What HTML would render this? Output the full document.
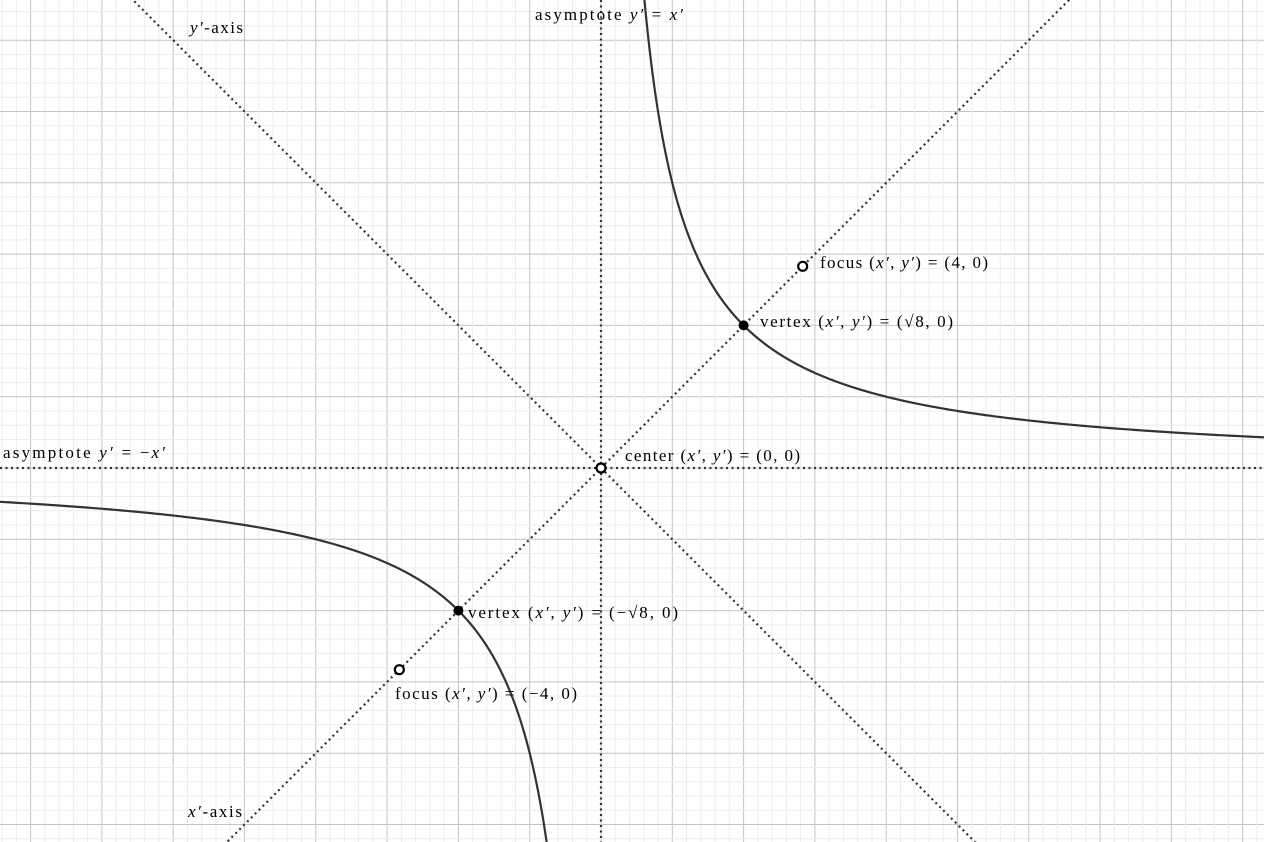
<!DOCTYPE html>
<html><head><meta charset="utf-8"><style>
html,body{margin:0;padding:0;background:#fff;overflow:hidden;width:1264px;height:842px;}
svg{display:block;}
text{font-family:"Liberation Serif",serif;font-size:17px;fill:#000;}
.m{font-style:italic;}
</style></head><body>
<svg id="chart" width="1264" height="842" viewBox="0 0 1264 842" xmlns="http://www.w3.org/2000/svg">
<g id="grid"></g>
<g id="lines"></g>
<g id="curves"></g>
<g id="pts"></g>
<g>
<text x="190" y="33" textLength="53" lengthAdjust="spacing"><tspan class="m">y′</tspan>-axis</text>
<text x="535" y="20" textLength="148" lengthAdjust="spacing">asymptote <tspan class="m">y′</tspan> = <tspan class="m">x′</tspan></text>
<text x="820" y="268" textLength="168" lengthAdjust="spacing">focus (<tspan class="m">x′</tspan>, <tspan class="m">y′</tspan>) = (4, 0)</text>
<text x="760" y="327" textLength="193" lengthAdjust="spacing">vertex (<tspan class="m">x′</tspan>, <tspan class="m">y′</tspan>) = (√8, 0)</text>
<text x="3" y="458" textLength="162" lengthAdjust="spacing">asymptote <tspan class="m">y′</tspan> = −<tspan class="m">x′</tspan></text>
<text x="625" y="461" textLength="175" lengthAdjust="spacing">center (<tspan class="m">x′</tspan>, <tspan class="m">y′</tspan>) = (0, 0)</text>
<text x="468" y="618" textLength="210" lengthAdjust="spacing">vertex (<tspan class="m">x′</tspan>, <tspan class="m">y′</tspan>) = (−√8, 0)</text>
<text x="395" y="699" textLength="182" lengthAdjust="spacing">focus (<tspan class="m">x′</tspan>, <tspan class="m">y′</tspan>) = (−4, 0)</text>
<text x="188" y="817" textLength="54" lengthAdjust="spacing"><tspan class="m">x′</tspan>-axis</text>
</g>
</svg>
<script>
const xRange = [-8.43, 9.31];
const hyperbolaK = [4];
const pointsX = [2, -2, 2.8284, -2.8284, 0];
const pointsY = [2, -2, 2.8284, -2.8284, 0];
const pointFilled = [true, true, false, false, false];

const NS = "http://www.w3.org/2000/svg";
const cx = 601, cy = 468, u = 71.3;
const sx = v => cx + v * u, sy = v => cy - v * u;
function mk(tag, attrs, parent){const e=document.createElementNS(NS,tag);for(const k in attrs)e.setAttribute(k,attrs[k]);parent.appendChild(e);return e;}
const grid = document.getElementById('grid');
for (let i = -60; i <= 60; i++) {
  const major = i % 5 === 0;
  const x = cx + i * u / 5, y = cy + i * u / 5;
  const col = major ? "#c4c4c4" : "#ececec";
  if (x >= 0 && x <= 1264) { const l = mk('line',{x1:x,y1:0,x2:x,y2:842,stroke:col,'stroke-width':1},grid);
    
     }
  if (y >= 0 && y <= 842) { const l = mk('line',{x1:0,y1:y,x2:1264,y2:y,stroke:col,'stroke-width':1},grid);
    
     }
}
const lines = document.getElementById('lines');
const ds = {stroke:"#333",'stroke-width':2.2,'stroke-dasharray':"2 3.5",fill:"none"};
const defs = [["asymptote-vertical",sx(0),0,sx(0),842],["asymptote-horizontal",0,sy(0),1264,sy(0)],
  ["x-prime-axis",sx(-6),sy(-6),sx(6.6),sy(6.6)],["y-prime-axis",sx(-6.6),sy(6.6),sx(6),sy(-6)]];
for (const d of defs) { const l = mk('line',Object.assign({x1:d[1],y1:d[2],x2:d[3],y2:d[4]},ds),lines);
  
   }
const curves = document.getElementById('curves');
const k = hyperbolaK[0];
for (const sgn of [1, -1]) {
  let p = "";
  const lo = 0.6, hi = sgn > 0 ? xRange[1] : -xRange[0];
  for (let i = 0; i <= 400; i++) {
    const t = lo * Math.pow(hi / lo, i / 400);
    const x = sgn * t, y = k / x;
    p += (i ? "L" : "M") + sx(x).toFixed(2) + " " + sy(y).toFixed(2);
  }
  const e = mk('path',{d:p,stroke:"#333",'stroke-width':2.2,fill:"none"},curves);
  
  
}
const pts = document.getElementById('pts');
for (let i = 0; i < pointsX.length; i++) {
  const a = pointFilled[i] ? {cx:sx(pointsX[i]),cy:sy(pointsY[i]),r:5,fill:"#000"} : {cx:sx(pointsX[i]),cy:sy(pointsY[i]),r:4.5,fill:"#fff",stroke:"#000",'stroke-width':2.2};
  const c = mk('circle',a,pts);
  
  
}
</script>
</body></html>
